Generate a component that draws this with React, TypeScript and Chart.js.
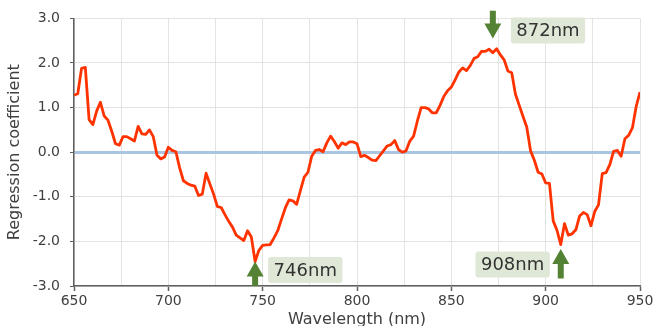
import { useEffect, useRef } from "react";
import { Chart, registerables } from "chart.js";

Chart.register(...registerables);

// Spectral wavelengths (nm) and PLS regression coefficients
const wavelengths = [
  650, 652, 654, 656, 658, 660, 662, 664, 666, 668, 670, 672, 674, 676, 678, 680,
  682, 684, 686, 688, 690, 692, 694, 696, 698, 700, 702, 704, 706, 708, 710, 712,
  714, 716, 718, 720, 722, 724, 726, 728, 730, 732, 734, 736, 738, 740, 742, 744,
  746, 748, 750, 752, 754, 756, 758, 760, 762, 764, 766, 768, 770, 772, 774, 776,
  778, 780, 782, 784, 786, 788, 790, 792, 794, 796, 798, 800, 802, 804, 806, 808,
  810, 812, 814, 816, 818, 820, 822, 824, 826, 828, 830, 832, 834, 836, 838, 840,
  842, 844, 846, 848, 850, 852, 854, 856, 858, 860, 862, 864, 866, 868, 870, 872,
  874, 876, 878, 880, 882, 884, 886, 888, 890, 892, 894, 896, 898, 900, 902, 904,
  906, 908, 910, 912, 914, 916, 918, 920, 922, 924, 926, 928, 930, 932, 934, 936,
  938, 940, 942, 944, 946, 948, 950,
];

const coefficients = [
  1.28, 1.31, 1.88, 1.90, 0.73, 0.62, 0.92, 1.12, 0.81, 0.72, 0.47, 0.19, 0.16, 0.35, 0.35, 0.30,
  0.25, 0.58, 0.41, 0.40, 0.50, 0.35, -0.07, -0.15, -0.11, 0.11, 0.04, 0.01, -0.35, -0.64, -0.70, -0.74,
  -0.76, -0.97, -0.94, -0.47, -0.71, -0.94, -1.22, -1.24, -1.40, -1.55, -1.68, -1.86, -1.92, -1.98, -1.76, -1.90,
  -2.45, -2.20, -2.09, -2.08, -2.07, -1.92, -1.76, -1.50, -1.25, -1.07, -1.09, -1.17, -0.86, -0.56, -0.45, -0.09,
  0.04, 0.06, 0.01, 0.21, 0.36, 0.24, 0.09, 0.21, 0.17, 0.23, 0.23, 0.19, -0.10, -0.07, -0.12, -0.18,
  -0.19, -0.08, 0.03, 0.14, 0.17, 0.26, 0.06, 0.00, 0.03, 0.25, 0.36, 0.70, 1.00, 1.00, 0.97, 0.88,
  0.88, 1.05, 1.25, 1.38, 1.46, 1.62, 1.80, 1.89, 1.83, 1.94, 2.10, 2.14, 2.26, 2.26, 2.31, 2.23,
  2.32, 2.18, 2.07, 1.82, 1.78, 1.30, 1.05, 0.80, 0.56, 0.03, -0.18, -0.45, -0.49, -0.69, -0.70, -1.54,
  -1.75, -2.07, -1.60, -1.86, -1.83, -1.74, -1.43, -1.35, -1.40, -1.65, -1.33, -1.18, -0.48, -0.46, -0.28, 0.02,
  0.04, -0.09, 0.30, 0.38, 0.55, 1.03, 1.35,
];

// Axis ticks
const xGridStops = [650, 675, 700, 725, 750, 775, 800, 825, 850, 875, 900, 925, 950];
const xTickLabels = [650, 700, 750, 800, 850, 900, 950];
const yTicks = [-3, -2, -1, 0, 1, 2, 3];

// Highlighted wavelengths
const peakLabels = ["746nm", "872nm", "908nm"];
const peakWavelengths = [746, 872, 908];

const FONT = '"DejaVu Sans", sans-serif';
const AXIS_GREY = "#5f5f5f";
const GRID_GREY = "#e3e3e3";
const ARROW_GREEN = "#548235";
const LABEL_FILL = "#dfe8d6";

// Arrow geometry and label placement for each highlighted wavelength
const markerStyle = [
  { tip: -2.45, tail: -3.0, boxSide: "right", boxGap: 13, boxTop: -4.5 },
  { tip: 2.55, tail: 3.17, boxSide: "right", boxGap: 18, boxTop: -21 },
  { tip: -2.17, tail: -2.83, boxSide: "left", boxGap: 11, boxTop: 2.5 },
];

const peakMarkers = {
  id: "peakMarkers",
  afterDraw(chart: any) {
    const { ctx, scales } = chart;
    const xs = scales.x;
    const ys = scales.y;
    ctx.save();
    peakWavelengths.forEach((nm, i) => {
      const st = markerStyle[i];
      const x = xs.getPixelForValue(nm);
      const yTip = ys.getPixelForValue(st.tip);
      const yTail = ys.getPixelForValue(st.tail);
      const dir = Math.sign(yTail - yTip);
      const headH = 15;
      const headW = 8.5;
      const shaftW = 3;
      ctx.fillStyle = ARROW_GREEN;
      ctx.beginPath();
      ctx.moveTo(x, yTip);
      ctx.lineTo(x + headW, yTip + dir * headH);
      ctx.lineTo(x + shaftW, yTip + dir * headH);
      ctx.lineTo(x + shaftW, yTail);
      ctx.lineTo(x - shaftW, yTail);
      ctx.lineTo(x - shaftW, yTip + dir * headH);
      ctx.lineTo(x - headW, yTip + dir * headH);
      ctx.closePath();
      ctx.fill();

      ctx.font = `18px ${FONT}`;
      const tw = ctx.measureText(peakLabels[i]).width;
      const bw = tw + 11;
      const bh = 26;
      const bx = st.boxSide === "right" ? x + st.boxGap : x - st.boxGap - bw;
      const by = yTip + st.boxTop;
      ctx.fillStyle = LABEL_FILL;
      ctx.beginPath();
      ctx.roundRect(bx, by, bw, bh, 3);
      ctx.fill();
      ctx.fillStyle = "#333333";
      ctx.textAlign = "left";
      ctx.textBaseline = "middle";
      ctx.fillText(peakLabels[i], bx + 5.5, by + bh / 2 + 1);
    });
    ctx.restore();
  },
};

export default function App() {
  const canvasRef = useRef<HTMLCanvasElement | null>(null);

  useEffect(() => {
    document.body.style.margin = "0";
    const canvas = canvasRef.current;
    if (!canvas) return;

    const chart = new Chart(canvas, {
      type: "line",
      data: {
        datasets: [
          {
            data: wavelengths.map((w, i) => ({ x: w, y: coefficients[i] })),
            borderColor: "#ff3300",
            borderWidth: 2.8,
            borderJoinStyle: "round",
            pointRadius: 0,
            tension: 0,
            fill: false,
          },
        ],
      },
      options: {
        animation: false,
        responsive: false,
        devicePixelRatio: 1,
        layout: { padding: { top: 18, right: 16, left: 0, bottom: 0 } },
        plugins: {
          legend: { display: false },
          tooltip: { enabled: false },
        },
        scales: {
          x: {
            type: "linear",
            min: 650,
            max: 950,
            afterFit: (s: any) => {
              s.height = 40;
            },
            afterBuildTicks: (s: any) => {
              s.ticks = xGridStops.map((v) => ({ value: v }));
            },
            ticks: {
              autoSkip: false,
              maxRotation: 0,
              padding: 2,
              color: "#404040",
              font: { family: FONT, size: 14 },
              callback: (v: any) => (xTickLabels.includes(Number(v)) ? String(v) : ""),
            },
            grid: {
              color: GRID_GREY,
              lineWidth: 1,
              tickLength: 5,
              tickColor: (c: any) =>
                xTickLabels.includes(c.tick?.value) ? AXIS_GREY : "rgba(0,0,0,0)",
              tickWidth: 1.5,
            },
            border: { display: true, color: AXIS_GREY, width: 1.5 },
            title: {
              display: true,
              text: "Wavelength (nm)",
              color: "#404040",
              font: { family: FONT, size: 16 },
              padding: { top: 0, bottom: -3 },
            },
          },
          y: {
            min: -3,
            max: 3,
            afterFit: (s: any) => {
              s.width = 74;
            },
            afterBuildTicks: (s: any) => {
              s.ticks = yTicks.map((v) => ({ value: v }));
            },
            ticks: {
              padding: 10,
              color: "#404040",
              font: { family: FONT, size: 14 },
              callback: (v: any) => Number(v).toFixed(1),
            },
            grid: {
              color: (c: any) => (c.tick?.value === 0 ? "#aac5e1" : GRID_GREY),
              lineWidth: (c: any) => (c.tick?.value === 0 ? 3 : 1),
              tickLength: 4,
              tickColor: AXIS_GREY,
              tickWidth: 1,
            },
            border: { display: true, color: AXIS_GREY, width: 1.5 },
            title: {
              display: true,
              text: "Regression coefficient",
              color: "#404040",
              font: { family: FONT, size: 16 },
              padding: { top: 5, bottom: 0 },
            },
          },
        },
      },
      plugins: [peakMarkers],
    } as any);

    return () => chart.destroy();
  }, []);

  return (
    <div style={{ width: 656, height: 326, overflow: "hidden" }}>
      <canvas ref={canvasRef} width={656} height={326} />
    </div>
  );
}
